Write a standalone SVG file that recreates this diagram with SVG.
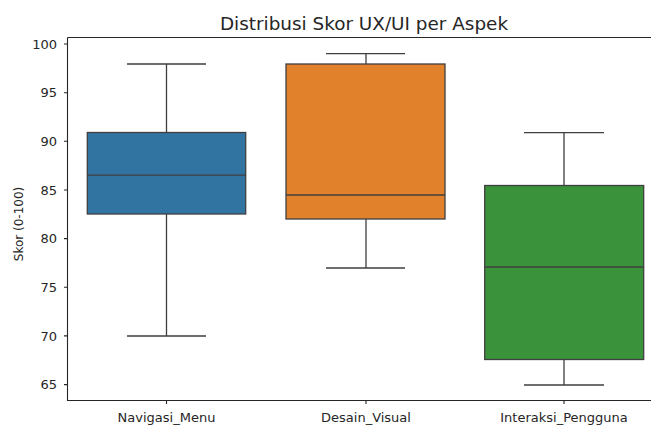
<svg xmlns="http://www.w3.org/2000/svg" width="651" height="425" viewBox="0 0 651 425">
<style>
text{font-family:"DejaVu Sans","Liberation Sans",sans-serif;fill:#262626}
.tl{font-size:13px}
.ax{stroke:#262626;stroke-width:1.1;fill:none}
.bx{stroke:#3f3f3f;stroke-width:1.3}
.wk{stroke:#3f3f3f;stroke-width:1.3;fill:none}
</style>
<rect width="651" height="425" fill="#fff"/>
<text x="364" y="29.5" text-anchor="middle" font-size="18.4">Distribusi Skor UX/UI per Aspek</text>
<g id="axes">
<path class="ax" d="M67.5,37.5V400.5H663M67.5,37.5H663"/>
<g class="ax">
<path d="M64,44H67.5M64,92.7H67.5M64,141.3H67.5M64,190H67.5M64,238.6H67.5M64,287.3H67.5M64,335.9H67.5M64,384.6H67.5"/>
<path d="M166.5,400.5V404M366,400.5V404M564,400.5V404"/>
</g>
<g class="tl" text-anchor="end">
<text x="57" y="48.6">100</text>
<text x="57" y="97.3">95</text>
<text x="57" y="145.9">90</text>
<text x="57" y="194.6">85</text>
<text x="57" y="243.2">80</text>
<text x="57" y="291.9">75</text>
<text x="57" y="340.5">70</text>
<text x="57" y="389.2">65</text>
</g>
<g class="tl" text-anchor="middle">
<text x="166.5" y="421.5">Navigasi_Menu</text>
<text x="366" y="421.5">Desain_Visual</text>
<text x="564" y="421.5">Interaksi_Pengguna</text>
</g>
<text font-size="12" transform="translate(23,224) rotate(-90)" text-anchor="middle">Skor (0-100)</text>
</g>
<g id="connectors">
<path class="wk" d="M166.5,132.5V64M127,64H206M166.5,214V336M127,336H206"/>
<path class="wk" d="M366,64V53.7M326,53.7H405M366,219V268M326,268H405"/>
<path class="wk" d="M564,185.5V132.7M524,132.7H604M564,359.5V385M524,385H604"/>
</g>
<g id="box-navigasi">
<rect class="bx" x="87.3" y="132.5" width="158.4" height="81.5" fill="#3274a1"/>
<path class="wk" d="M87.3,175.2H245.7"/>
</g>
<g id="box-desain">
<rect class="bx" x="286" y="64" width="159" height="155" fill="#e1812c"/>
<path class="wk" d="M286,195H445"/>
</g>
<g id="box-interaksi">
<rect class="bx" x="484.7" y="185.5" width="159" height="174" fill="#3a923a"/>
<path class="wk" d="M484.7,267H643.7"/>
</g>
</svg>
